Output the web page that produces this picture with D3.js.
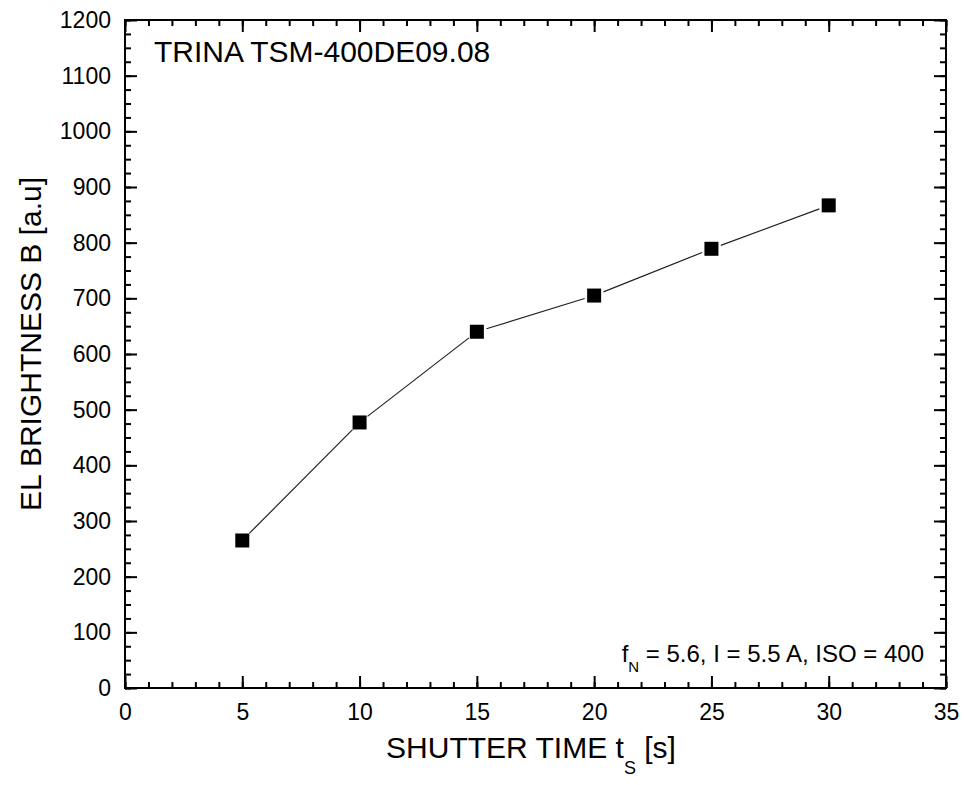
<!DOCTYPE html>
<html>
<head>
<meta charset="utf-8">
<script src="https://cdn.jsdelivr.net/npm/d3@7"></script>
<style>
  html, body { margin: 0; padding: 0; background: #fff; }
  svg { display: block; font-family: "Liberation Sans", Arial, sans-serif; }
</style>
</head>
<body>
<svg id="chart" width="964" height="785"></svg>
<script>
// ---- data ----
const shutterTimes = [5, 10, 15, 20, 25, 30];
const brightness = [265, 477, 640, 705, 789, 867];
const xTicks = [0, 5, 10, 15, 20, 25, 30, 35];
const yTicks = [0, 100, 200, 300, 400, 500, 600, 700, 800, 900, 1000, 1100, 1200];
const xMinorTicks = d3.range(0, 35.001, 1);
const yMinorTicks = d3.range(0, 1200.001, 25);
const titleText = "TRINA TSM-400DE09.08";

// ---- layout ----
const L = 125, R = 946, T = 20, B = 688;
const FONT = "Liberation Sans, Arial, sans-serif";
const svg = d3.select("#chart");
const x = d3.scaleLinear().domain([0, 35]).range([L, R]);
const y = d3.scaleLinear().domain([0, 1200]).range([B, T]);

const majorLen = 12, minorLen = 6;

function noDomain(g) { g.select(".domain").remove(); }

// bottom axis (inward ticks)
svg.append("g").attr("transform", `translate(0,${B})`)
  .call(d3.axisBottom(x).tickValues(xMinorTicks).tickSize(-minorLen).tickFormat(""))
  .call(noDomain);
const gxM = svg.append("g").attr("transform", `translate(0,${B})`)
  .call(d3.axisBottom(x).tickValues(xTicks).tickSize(-majorLen).tickPadding(16).tickFormat(d3.format("d")))
  .call(noDomain);
gxM.selectAll("text").attr("font-size", 23).attr("fill", "#000").attr("font-family", FONT);

// top axis
svg.append("g").attr("transform", `translate(0,${T})`)
  .call(d3.axisTop(x).tickValues(xMinorTicks).tickSize(-minorLen).tickFormat(""))
  .call(noDomain);
svg.append("g").attr("transform", `translate(0,${T})`)
  .call(d3.axisTop(x).tickValues(xTicks).tickSize(-majorLen).tickFormat(""))
  .call(noDomain);

// left axis
svg.append("g").attr("transform", `translate(${L},0)`)
  .call(d3.axisLeft(y).tickValues(yMinorTicks).tickSize(-minorLen).tickFormat(""))
  .call(noDomain);
const gyM = svg.append("g").attr("transform", `translate(${L},0)`)
  .call(d3.axisLeft(y).tickValues(yTicks).tickSize(-majorLen).tickPadding(14).tickFormat(d3.format("d")))
  .call(noDomain);
gyM.selectAll("text").attr("font-size", 23).attr("fill", "#000").attr("font-family", FONT);

// right axis
svg.append("g").attr("transform", `translate(${R},0)`)
  .call(d3.axisRight(y).tickValues(yMinorTicks).tickSize(-minorLen).tickFormat(""))
  .call(noDomain);
svg.append("g").attr("transform", `translate(${R},0)`)
  .call(d3.axisRight(y).tickValues(yTicks).tickSize(-majorLen).tickFormat(""))
  .call(noDomain);

svg.selectAll(".tick line").attr("stroke", "#000").attr("stroke-width", 2);

// frame
svg.append("rect").attr("x", L).attr("y", T).attr("width", R - L).attr("height", B - T)
  .attr("fill", "none").attr("stroke", "#000").attr("stroke-width", 2);

// data line: segments with small gaps at the markers (Origin style)
const pts = shutterTimes.map((t, i) => [t, brightness[i]]);
const gap = 10;
const segs = d3.pairs(pts).map(([a, b]) => {
  const ax = x(a[0]), ay = y(a[1]), bx = x(b[0]), by = y(b[1]);
  const len = Math.hypot(bx - ax, by - ay);
  const ux = (bx - ax) / len, uy = (by - ay) / len;
  return [[ax + ux * gap, ay + uy * gap], [bx - ux * gap, by - uy * gap]];
});
svg.selectAll("path.seg").data(segs).enter().append("path")
  .attr("class", "seg")
  .attr("fill", "none").attr("stroke", "#222").attr("stroke-width", 1.2)
  .attr("d", d3.line());

// markers
const ms = 14;
svg.selectAll("rect.marker").data(pts).enter().append("rect")
  .attr("class", "marker")
  .attr("x", d => x(d[0]) - ms / 2).attr("y", d => y(d[1]) - ms / 2)
  .attr("width", ms).attr("height", ms).attr("fill", "#000");

// title text in plot
svg.append("text").attr("x", 154).attr("y", 62)
  .attr("font-size", 30).attr("fill", "#000").attr("font-family", FONT).text(titleText);

// annotation
const ann = svg.append("text").attr("x", 924).attr("y", 662)
  .attr("text-anchor", "end").attr("font-size", 24).attr("fill", "#000").attr("font-family", FONT);
ann.append("tspan").text("f");
ann.append("tspan").attr("font-size", 15).attr("dy", 10).text("N");
ann.append("tspan").attr("dy", -10).text(" = 5.6, I = 5.5 A, ISO = 400");

// x axis title
const xt = svg.append("text").attr("x", 531).attr("y", 758)
  .attr("text-anchor", "middle").attr("font-size", 30).attr("fill", "#000").attr("font-family", FONT);
xt.append("tspan").text("SHUTTER TIME t");
xt.append("tspan").attr("font-size", 18).attr("dy", 16).text("S");
xt.append("tspan").attr("dy", -16).text(" [s]");

// y axis title
svg.append("text")
  .attr("transform", `translate(41,344) rotate(-90)`)
  .attr("text-anchor", "middle").attr("font-size", 30).attr("fill", "#000").attr("font-family", FONT)
  .text("EL BRIGHTNESS B [a.u]");
</script>
</body>
</html>
